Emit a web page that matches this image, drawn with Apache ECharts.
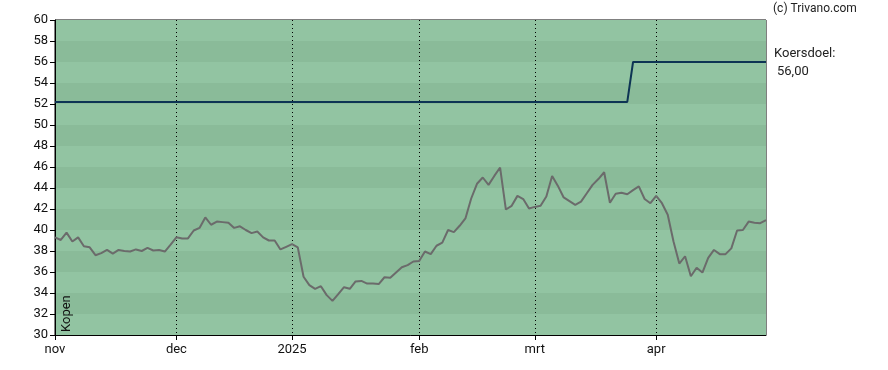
<!DOCTYPE html>
<html>
<head>
<meta charset="utf-8">
<script src="https://cdn.jsdelivr.net/npm/echarts@6/dist/echarts.min.js"></script>
<style>html,body{margin:0;padding:0;background:#fff;}#c{width:888px;height:370px;}</style>
</head>
<body>
<div id="c"></div>
<script>
const dates = [
 "2024-11-01","2024-11-04","2024-11-05","2024-11-06","2024-11-07","2024-11-08","2024-11-11","2024-11-12","2024-11-13","2024-11-14","2024-11-15","2024-11-18","2024-11-19","2024-11-20","2024-11-21","2024-11-22","2024-11-25","2024-11-26","2024-11-27","2024-11-28","2024-11-29",
 "2024-12-02","2024-12-03","2024-12-04","2024-12-05","2024-12-06","2024-12-09","2024-12-10","2024-12-11","2024-12-12","2024-12-13","2024-12-16","2024-12-17","2024-12-18","2024-12-19","2024-12-20","2024-12-23","2024-12-24","2024-12-27","2024-12-30","2024-12-31",
 "2025-01-02","2025-01-03","2025-01-06","2025-01-07","2025-01-08","2025-01-09","2025-01-10","2025-01-13","2025-01-14","2025-01-15","2025-01-16","2025-01-17","2025-01-20","2025-01-21","2025-01-22","2025-01-23","2025-01-24","2025-01-27","2025-01-28","2025-01-29","2025-01-30","2025-01-31",
 "2025-02-03","2025-02-04","2025-02-05","2025-02-06","2025-02-07","2025-02-10","2025-02-11","2025-02-12","2025-02-13","2025-02-14","2025-02-17","2025-02-18","2025-02-19","2025-02-20","2025-02-21","2025-02-24","2025-02-25","2025-02-26","2025-02-27","2025-02-28",
 "2025-03-03","2025-03-04","2025-03-05","2025-03-06","2025-03-07","2025-03-10","2025-03-11","2025-03-12","2025-03-13","2025-03-14","2025-03-17","2025-03-18","2025-03-19","2025-03-20","2025-03-21","2025-03-24","2025-03-25","2025-03-26","2025-03-27","2025-03-28","2025-03-31",
 "2025-04-01","2025-04-02","2025-04-03","2025-04-04","2025-04-07","2025-04-08","2025-04-09","2025-04-10","2025-04-11","2025-04-14","2025-04-15","2025-04-16","2025-04-17","2025-04-22","2025-04-23","2025-04-24","2025-04-25","2025-04-28","2025-04-29","2025-04-30"
];
const price = [
 39.3,39.05,39.75,38.9,39.3,38.45,38.35,37.6,37.8,38.1,37.75,38.1,38.0,37.95,38.15,38.0,38.3,38.05,38.1,37.95,38.6,
 39.3,39.2,39.2,39.95,40.2,41.2,40.5,40.8,40.75,40.7,40.2,40.35,40.0,39.7,39.85,39.3,39.0,39.0,38.15,38.4,
 38.65,38.35,35.55,34.75,34.4,34.65,33.8,33.25,33.9,34.55,34.4,35.1,35.15,34.9,34.9,34.85,35.5,35.45,35.95,36.45,36.65,37.0,
 37.05,37.95,37.7,38.5,38.8,40.0,39.8,40.4,41.1,43.0,44.4,45.0,44.3,45.15,45.95,41.95,42.3,43.25,42.95,42.05,
 42.2,42.3,43.2,45.15,44.2,43.1,42.75,42.4,42.7,43.5,44.3,44.85,45.5,42.6,43.45,43.55,43.4,43.8,44.15,42.95,42.55,
 43.25,42.55,41.45,38.9,36.8,37.5,35.6,36.4,35.95,37.35,38.1,37.7,37.7,38.25,39.95,40.0,40.8,40.7,40.65,40.95
];
const targetOld = 52.2, targetNew = 56.0, targetChangeDate = "2025-03-26";
const target = dates.map(d => d < targetChangeDate ? targetOld : targetNew);
const monthNames = {"11":"nov","12":"dec","01":"2025","02":"feb","03":"mrt","04":"apr"};
const yTicks = {min:30, max:60, interval:2};
const targetLabel = "Koersdoel:";
const targetValueText = "56,00";
const adviceText = "Kopen";
const creditText = "(c) Trivano.com";

function isMonthStart(i){
  if (i === 0) return true;
  return dates[i].slice(5,7) !== dates[i-1].slice(5,7);
}

const chart = echarts.init(document.getElementById('c'), null, {renderer:'canvas'});
const FONT = 'Roboto';
chart.setOption({
  animation:false,
  textStyle:{fontFamily:FONT},
  grid:{left:55, right:122, top:20, bottom:35, show:true, borderColor:'#000', borderWidth:1, backgroundColor:'transparent'},
  xAxis:{
    type:'category', data:dates, boundaryGap:false,
    axisLine:{lineStyle:{color:'#000', width:1}},
    axisTick:{show:true, interval:(i)=>isMonthStart(i), length:5, lineStyle:{color:'#000'}},
    axisLabel:{interval:(i)=>isMonthStart(i), formatter:(v)=>monthNames[v.slice(5,7)], color:'#111', fontSize:13, fontFamily:FONT, margin:8},
    splitLine:{show:true, interval:(i)=>isMonthStart(i) && i>0, lineStyle:{color:'#000', type:[1,3], width:1}}
  },
  yAxis:{
    type:'value', min:yTicks.min, max:yTicks.max, interval:yTicks.interval,
    axisLine:{show:true, lineStyle:{color:'#000'}},
    axisTick:{show:true, length:5, lineStyle:{color:'#000'}},
    axisLabel:{color:'#111', fontSize:13, fontFamily:FONT, margin:7},
    splitLine:{show:false},
    splitArea:{show:true, areaStyle:{color:['rgb(146,196,162)','rgb(138,187,153)']}}
  },
  series:[
    {type:'line', data:target, symbol:'none', lineStyle:{color:'#0d3454', width:2}, z:3},
    {type:'line', data:price, symbol:'none', lineStyle:{color:'#6b6b6b', width:2}, z:4}
  ],
  graphic:[
    {type:'text', left:773, top:3, z:100, style:{text:creditText, font:'12px Roboto', fill:'#222'}},
    {type:'text', left:774, top:47, z:100, style:{text:targetLabel, font:'13px Roboto', fill:'#222'}},
    {type:'text', left:777, top:65, z:100, style:{text:targetValueText, font:'13px Roboto', fill:'#222'}},
    {type:'text', x:73, y:332, rotation:Math.PI/2, z:100, style:{text:adviceText, font:'13px Roboto', fill:'#111', align:'left', verticalAlign:'bottom'}}
  ]
});
</script>
</body>
</html>
